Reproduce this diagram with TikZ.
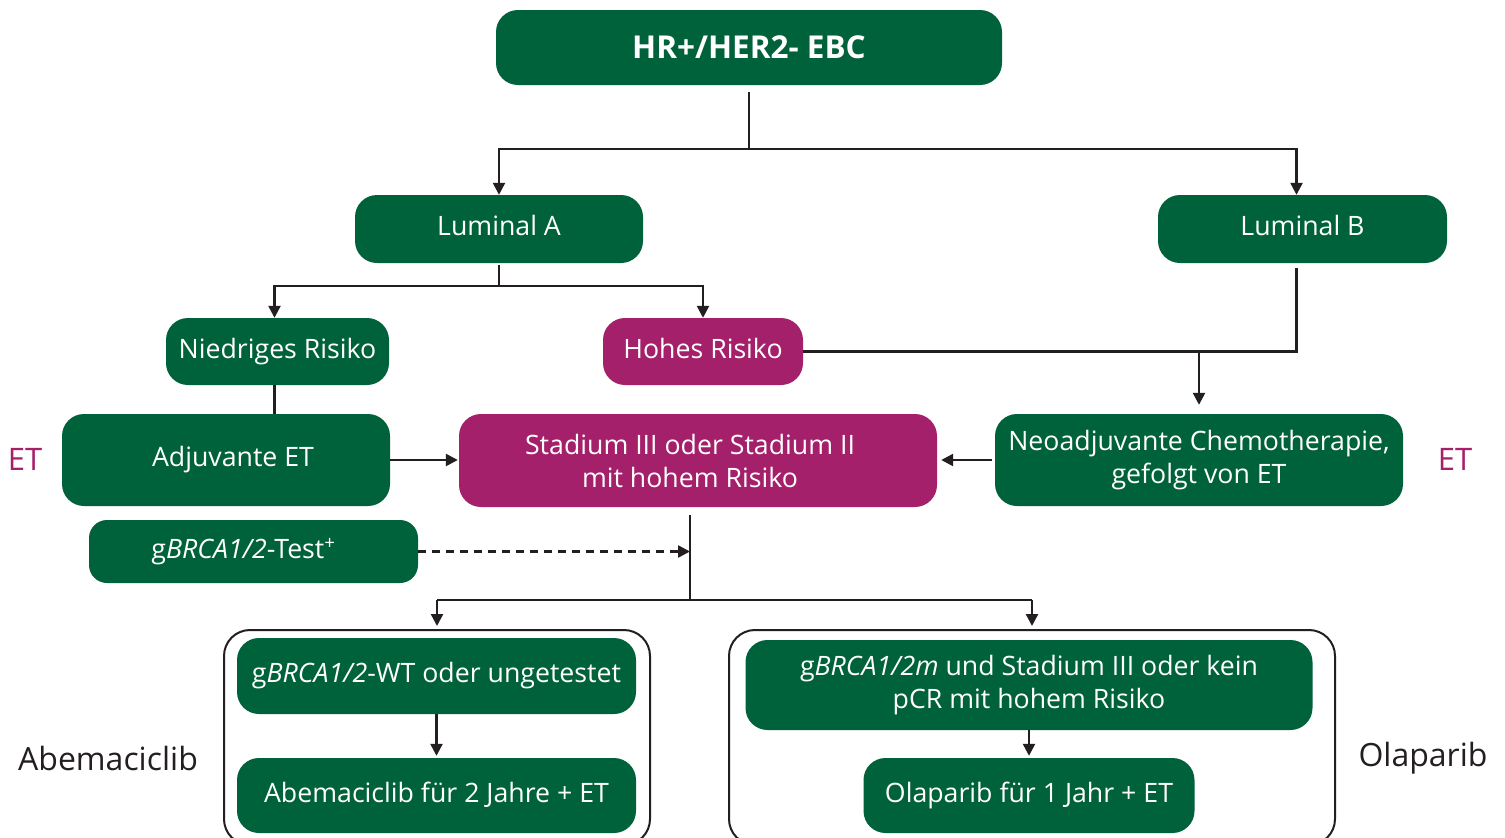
\documentclass[tikz,border=0pt]{standalone}
\usepackage{fontspec}
\setmainfont{Open Sans}
\usetikzlibrary{arrows.meta}
\definecolor{dgreen}{RGB}{0,98,59}
\definecolor{mag}{RGB}{165,32,107}
\definecolor{lnc}{RGB}{35,31,32}
\begin{document}
\begin{tikzpicture}[x=1pt,y=-1pt,
  box/.style={fill=dgreen, rounded corners=22pt, text=white, align=center, inner sep=0pt,
    font=\fontsize{26.7}{33}\selectfont},
  one/.style={text height=19.5pt, text depth=6pt},
  mbox/.style={box, fill=mag},
  frame/.style={draw=lnc, line width=2pt, rounded corners=26pt, inner sep=0pt},
  line/.style={line width=2.4pt, draw=lnc},
  arr/.style={line, -{Triangle[width=12pt,length=12pt]}},
  side/.style={font=\fontsize{32}{36}\selectfont, text=lnc, inner sep=0pt},
  etlab/.style={font=\fontsize{31}{36}\selectfont, text=mag, inner sep=0pt}
]
\clip (0,0) rectangle (1505,838);
\fill[white] (0,0) rectangle (1505,838);

% nodes
\node[box, minimum width=506pt, minimum height=75pt, font=\fontsize{31.5}{36}\selectfont\bfseries] (top) at (749,47.5) {HR+/HER2- EBC};
\node[box, one, minimum width=288pt, minimum height=68pt] (la) at (499,229) {Luminal A};
\node[box, one, minimum width=289pt, minimum height=68pt] (lb) at (1302.5,229) {Luminal B};
\node[box, one, minimum width=223pt, minimum height=67pt] (nr) at (277.5,351.5) {Niedriges Risiko};
\node[mbox, one, minimum width=200pt, minimum height=67pt] (hr) at (703,351.5) {Hohes Risiko};
\node[box, one, minimum width=328pt, minimum height=92pt] (adj) at (226,460) {\hspace*{14pt}Adjuvante ET};
\node[mbox, minimum width=478pt, minimum height=93pt] (st) at (698,460.5) {Stadium III oder Stadium II\hspace*{16pt}\\mit hohem Risiko\hspace*{16pt}};
\node[box, minimum width=408pt, minimum height=92pt] (neo) at (1199,460) {Neoadjuvante Chemotherapie,\\gefolgt von ET};
\node[box, one, minimum width=329pt, minimum height=63pt, rounded corners=18pt] (test) at (253.5,551.5) {g\textit{BRCA1/2}-Test\textsuperscript{+}\hspace*{20pt}};

\node[frame, minimum width=426pt, minimum height=215pt] (fl) at (437,737.5) {};
\node[frame, minimum width=606pt, minimum height=215pt] (fr) at (1032,737.5) {};

\node[box, one, minimum width=399pt, minimum height=76pt] (wt) at (436.5,676) {g\textit{BRCA1/2}-WT oder ungetestet};
\node[box, one, minimum width=399pt, minimum height=75pt] (abe) at (436.5,795.5) {Abemaciclib für 2 Jahre + ET};
\node[box, minimum width=567pt, minimum height=90pt] (gm) at (1029,685) {g\textit{BRCA1/2m} und Stadium III oder kein\\pCR mit hohem Risiko};
\node[box, one, minimum width=331pt, minimum height=75pt] (ola) at (1029,795.5) {Olaparib für 1 Jahr + ET};

\node[etlab] (etl) at (25,459) {ET};
\node[etlab] (etr) at (1455,459) {ET};
\node[side] (labA) at (108,758) {Abemaciclib};
\node[side] (labO) at (1423,758) {Olaparib};

% junctions
\coordinate (s1) at (749,149);
\coordinate (s2) at (499,286);
\coordinate (s3) at (690,600);

% connectors
\draw[line] ([yshift=-7pt]top.south) -- (s1);
\draw[arr] (s1) -| ([xshift=-6pt]lb.north);
\draw[arr] (s1) -| (la.north);

\draw[line] ([yshift=-2pt]la.south) -- (s2);
\draw[arr] (s2) -| ([xshift=-3pt]nr.north);
\draw[arr] (s2) -| (hr.north);

\draw[line] ([xshift=-6pt,yshift=-5pt]lb.south) |- (hr.east);
\draw[arr] (neo.north |- hr.east) -- ([yshift=9pt]neo.north);

\draw[line] ([xshift=-3pt]nr.south) -- ([xshift=-3pt]nr.south |- adj.north);
\draw[arr] (adj.east) -- ([xshift=-1pt]adj.east -| st.west);
\draw[arr] ([xshift=-3pt]neo.west) -- ([xshift=4pt]neo.west -| st.east);

\draw[line] ([yshift=-8pt]s3 |- st.south) -- (s3);
\draw[line, dash pattern=on 8pt off 6pt, -{Triangle[width=12pt,length=12pt]}] (test.east) -- (test.east -| s3);
\draw[line] (fl.north |- s3) -- (fr.north |- s3);
\draw[arr] (fl.north |- s3) -- ([yshift=3pt]fl.north);
\draw[arr] (fr.north |- s3) -- ([yshift=3pt]fr.north);

\draw[arr] (wt.south) -- ([yshift=2pt]abe.north);
\draw[arr] (gm.south) -- ([yshift=2pt]ola.north);
\end{tikzpicture}
\end{document}
